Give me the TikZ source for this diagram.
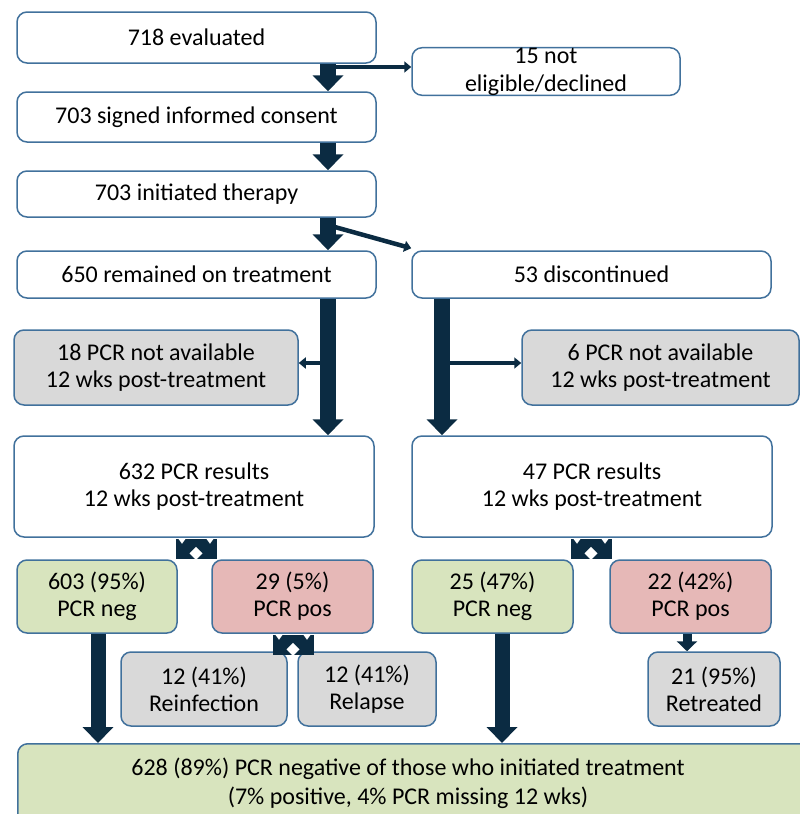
\documentclass[tikz,border=0pt]{standalone}
\usepackage{fontspec}
\setmainfont{Carlito}
\usetikzlibrary{arrows.meta,calc}
\definecolor{bordercol}{HTML}{41719C}
\definecolor{arrowcol}{HTML}{0B2B42}
\definecolor{grayfill}{HTML}{D9D9D9}
\definecolor{greenfill}{HTML}{D8E4BE}
\definecolor{redfill}{HTML}{E6B8B7}
\tikzset{
  box/.style={draw=bordercol, line width=1.5pt, rounded corners=10pt, fill=white,
    align=center, inner sep=0pt, font=\fontsize{24}{27}\selectfont},
  graybox/.style={box, fill=grayfill},
  greenbox/.style={box, fill=greenfill},
  redbox/.style={box, fill=redfill},
  bigarrow/.style={draw=arrowcol, line width=16pt, -{Triangle[width=30pt,length=16pt]}},
  midarrow/.style={draw=arrowcol, line width=9pt, -{Triangle[width=20pt,length=10pt]}},
  sidearrow/.style={draw=arrowcol, line width=4.5pt, -{Triangle[width=11pt,length=7pt]}},
  fork/.pic={
    \fill[arrowcol] (-20.5,0) rectangle (20.5,20);
    \fill[white] (0,8) -- (6.5,14.5) -- (0,21) -- (-6.5,14.5) -- cycle;
    \fill[white] (-18,-0.5) -- (-10,-0.5) -- (-14,5) -- cycle;
    \fill[white] (10,-0.5) -- (18,-0.5) -- (14,5) -- cycle;
  }
}
\begin{document}
\begin{tikzpicture}[x=1pt,y=-1pt]
\useasboundingbox (0,0) rectangle (800,814);
% boxes
\node[box, minimum width=359pt, minimum height=51pt] (b1) at (196.5,37.5) {718 evaluated};
\node[box, minimum width=268pt, minimum height=47pt, font=\fontsize{24}{28}\selectfont] (b2) at (546,71.5) {15 not\\eligible/declined};
\node[box, minimum width=359pt, minimum height=50pt] (b3) at (196.5,117) {703 signed informed consent};
\node[box, minimum width=359pt, minimum height=46pt] (b4) at (196.5,194) {703 initiated therapy};
\node[box, minimum width=359pt, minimum height=47pt] (b5) at (196.5,274.5) {650 remained on treatment};
\node[box, minimum width=359pt, minimum height=47pt] (b6) at (591.5,274.5) {53 discontinued};
\node[graybox, minimum width=284pt, minimum height=75pt] (b7) at (156,367.5) {18 PCR not available\\12 wks post-treatment};
\node[graybox, minimum width=277pt, minimum height=75pt] (b8) at (660.5,367.5) {6 PCR not available\\12 wks post-treatment};
\node[box, minimum width=360pt, minimum height=101pt] (b9) at (194,486.5) {632 PCR results\\12 wks post-treatment};
\node[box, minimum width=360pt, minimum height=101pt] (b10) at (592,486.5) {47 PCR results\\12 wks post-treatment};
\node[greenbox, minimum width=160pt, minimum height=73pt] (b11) at (97,596.5) {603 (95\%)\\PCR neg};
\node[redbox, minimum width=161pt, minimum height=73pt] (b12) at (292.5,596.5) {29 (5\%)\\PCR pos};
\node[greenbox, minimum width=161pt, minimum height=73pt] (b13) at (492.5,596.5) {25 (47\%)\\PCR neg};
\node[redbox, minimum width=161pt, minimum height=73pt] (b14) at (690.5,596.5) {22 (42\%)\\PCR pos};
\node[graybox, minimum width=166pt, minimum height=74pt] (b15) at (204,689) {12 (41\%)\\Reinfection};
\node[graybox, minimum width=138pt, minimum height=74pt] (b16) at (367,689) {12 (41\%)\\Relapse};
\node[graybox, minimum width=132pt, minimum height=74pt] (b17) at (714,689) {21 (95\%)\\Retreated};
\node[greenbox, minimum width=800pt, minimum height=90pt, anchor=north west, text width=780pt] (b18) at (17,743) {};
\node[font=\fontsize{24}{29}\selectfont, align=center] (t18) at (408,783) {628 (89\%) PCR negative of those who initiated treatment\\(7\% positive, 4\% PCR missing 12 wks)};
% coordinates for arrow columns
\coordinate (cL) at (328,0);
\coordinate (cR) at (442,0);
\coordinate (cA) at (98,0);
\coordinate (cB) at (502,0);
\coordinate (cC) at (687,0);
\coordinate (s1) at (328,67);
\coordinate (s2) at (333,226.5);
\coordinate (s3) at (328,363);
\coordinate (s4) at (442,363);
% main arrows
\draw[sidearrow] (s1) -- (s1 -| b2.west);
\draw[sidearrow] (s2) -- ($(b6.north west)+(0,-2)$);
\draw[bigarrow] (b1.south -| cL) -- (b3.north -| cL);
\draw[bigarrow] (b3.south -| cL) -- (b4.north -| cL);
\draw[bigarrow] (b4.south -| cL) -- (b5.north -| cL);
\draw[sidearrow] (s3) -- (s3 -| b7.east);
\draw[sidearrow] (s4) -- (s4 -| b8.west);
\draw[bigarrow] (b5.south -| cL) -- (b9.north -| cL);
\draw[bigarrow] (b6.south -| cR) -- (b10.north -| cR);
\draw[bigarrow, line width=15pt] (b11.south -| cA) -- (b18.north -| cA);
\draw[bigarrow, line width=15pt] (b13.south -| cB) -- (b18.north -| cB);
\draw[midarrow] (b14.south -| cC) -- (b17.north -| cC);
% forks
\coordinate (f1) at (196,0);
\coordinate (f2) at (293,0);
\coordinate (f3) at (591,0);
\pic at ($(b9.south -| f1)+(0,1)$) {fork};
\pic at ($(b12.south -| f2)+(0,1)$) {fork};
\pic at ($(b10.south -| f3)+(0,1)$) {fork};
\end{tikzpicture}
\end{document}
